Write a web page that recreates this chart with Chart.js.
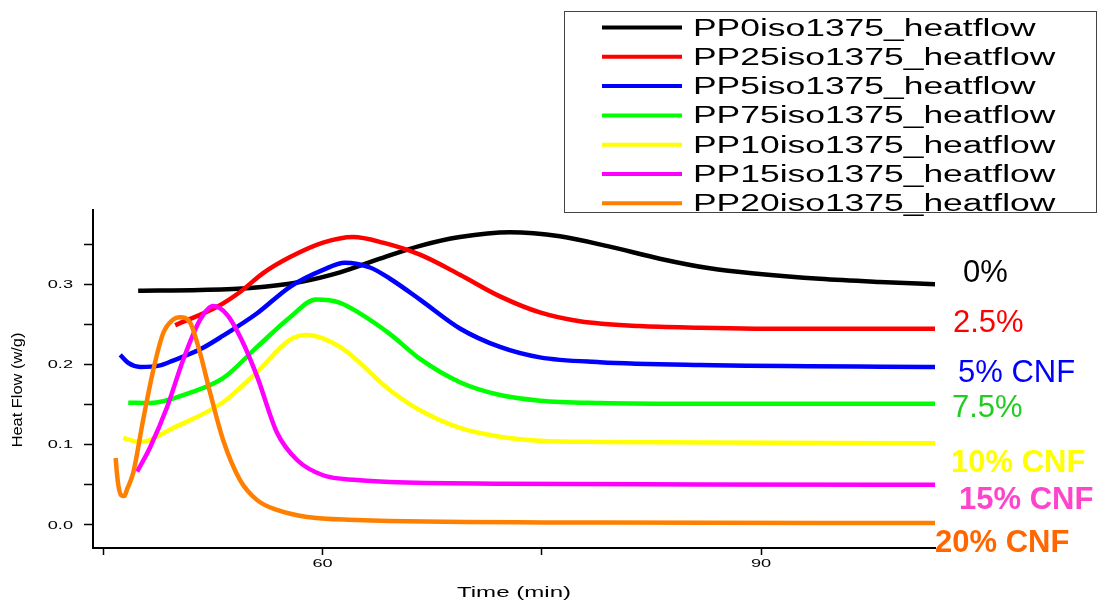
<!DOCTYPE html>
<html>
<head>
<meta charset="UTF-8">
<title>Heat flow</title>
<script src="https://cdn.jsdelivr.net/npm/chart.js"></script>
<style>
  body { margin: 0; background: #fff; }
  #box { width: 1099px; height: 601px; }
</style>
</head>
<body>
<div id="box"><canvas id="grafico" width="1099" height="601"></canvas></div>
<script>
// series names, colours
const nomes = ['PP0iso1375_heatflow', 'PP25iso1375_heatflow', 'PP5iso1375_heatflow', 'PP75iso1375_heatflow',
  'PP10iso1375_heatflow', 'PP15iso1375_heatflow', 'PP20iso1375_heatflow'];
const cores = ['#000000', '#ff0000', '#0000ff', '#00ff00', '#ffff00', '#ff00ff', '#ff8000'];

// time (min) and heat flow (w/g)
const tPP0 = [47.39, 51.63, 55.05, 58.47, 61.20, 63.93, 66.67, 69.40, 72.82, 76.24, 79.65, 83.07, 86.49, 89.91, 94.01, 98.11, 102.0];
const hfPP0 = [0.292, 0.293, 0.2955, 0.303, 0.315, 0.332, 0.348, 0.359, 0.365, 0.360, 0.347, 0.332, 0.320, 0.313, 0.307, 0.303, 0.300];

const tPP25 = [49.92, 52.79, 54.36, 55.94, 57.78, 60.04, 62.09, 64.14, 66.67, 69.40, 72.14, 74.87, 77.60, 81.71, 85.81, 92.64, 102.0];
const hfPP25 = [0.249, 0.272, 0.2905, 0.314, 0.334, 0.352, 0.359, 0.352, 0.337, 0.312, 0.285, 0.265, 0.254, 0.248, 0.246, 0.2445, 0.2445];

const tPP5 = [46.16, 46.71, 47.53, 48.90, 49.78, 51.63, 53.20, 55.53, 57.78, 60.04, 61.54, 63.25, 64.62, 66.67, 69.40, 72.14, 74.87, 78.97, 85.81, 102.0];
const hfPP5 = [0.212, 0.202, 0.197, 0.199, 0.205, 0.219, 0.236, 0.264, 0.297, 0.318, 0.327, 0.321, 0.307, 0.281, 0.245, 0.222, 0.209, 0.203, 0.1995, 0.197];

const tPP75 = [46.71, 48.21, 50.95, 53.20, 55.53, 57.78, 59.56, 61.20, 62.36, 64.62, 66.67, 69.40, 72.14, 74.87, 78.97, 85.81, 102.0];
const hfPP75 = [0.1525, 0.152, 0.165, 0.183, 0.222, 0.259, 0.281, 0.277, 0.266, 0.238, 0.207, 0.178, 0.162, 0.155, 0.152, 0.151, 0.151];

const tPP10 = [46.37, 47.53, 49.78, 53.20, 55.53, 57.78, 58.94, 61.20, 64.62, 66.67, 69.40, 72.14, 74.87, 78.97, 102.0];
const hfPP10 = [0.1085, 0.1035, 0.121, 0.153, 0.191, 0.231, 0.237, 0.222, 0.168, 0.143, 0.121, 0.110, 0.105, 0.1035, 0.102];

const tPP15 = [47.32, 48.21, 49.37, 50.47, 51.63, 52.52, 53.48, 54.57, 55.53, 56.89, 58.26, 60.04, 62.36, 64.62, 72.14, 85.81, 102.0];
const hfPP15 = [0.0665, 0.097, 0.147, 0.206, 0.256, 0.273, 0.262, 0.227, 0.185, 0.115, 0.081, 0.062, 0.056, 0.0536, 0.0515, 0.0505, 0.050];

const tPP20 = [45.85, 45.92, 46.03, 46.23, 46.44, 46.64, 47.05, 47.73, 48.42, 49.10, 49.78, 50.26, 50.95, 51.63, 52.31, 53.20, 54.36, 55.53, 56.89, 58.94, 62.36, 64.62, 78.97, 102.0];
const hfPP20 = [0.0835, 0.068, 0.050, 0.037, 0.036, 0.045, 0.065, 0.131, 0.193, 0.239, 0.256, 0.259, 0.252, 0.214, 0.165, 0.106, 0.056, 0.031, 0.0187, 0.010, 0.0062, 0.005, 0.003, 0.0025];

// ticks
const xTicks = [45, 60, 75, 90];
const xLabels = [60, 90];
const yTicks = [0, 0.05, 0.1, 0.15, 0.2, 0.25, 0.3, 0.35];
const yLabels = [0, 0.1, 0.2, 0.3];

// labels at the right end of the curves
const rotulos = ['0%', '2.5%', '5% CNF', '7.5%', '10% CNF', '15% CNF', '20% CNF'];
const coresRotulos = ['#000000', '#ff0000', '#0000ff', '#22cc22', '#ffff00', '#ff44cc', '#ff6600'];

const tempos = [tPP0, tPP25, tPP5, tPP75, tPP10, tPP15, tPP20];
const fluxos = [hfPP0, hfPP25, hfPP5, hfPP75, hfPP10, hfPP15, hfPP20];

const datasets = nomes.map(function (nome, i) {
  return {
    label: nome,
    data: tempos[i].map(function (t, k) { return { x: t, y: fluxos[i][k] }; }),
    borderColor: cores[i],
    backgroundColor: cores[i],
    borderWidth: 4.5,
    pointRadius: 0,
    cubicInterpolationMode: 'monotone',
    fill: false,
    order: nomes.length - i
  };
});

const FONTE = '"Liberation Sans", Arial, sans-serif';

// draws text stretched sideways like the original figure
function textoLargo(ctx, txt, x, y, sx, align) {
  ctx.save();
  ctx.translate(x, y);
  ctx.scale(sx, 1);
  ctx.textAlign = align;
  ctx.fillText(txt, 0, 0);
  ctx.restore();
}

const extras = {
  id: 'extras',
  afterDraw(chart) {
    const ctx = chart.ctx;
    const area = chart.chartArea;
    const sx = chart.scales.x, sy = chart.scales.y;
    ctx.save();
    ctx.fillStyle = '#000';
    ctx.textBaseline = 'middle';

    // tick labels
    ctx.font = '11px ' + FONTE;
    xLabels.forEach(function (v) {
      textoLargo(ctx, String(v), sx.getPixelForValue(v), area.bottom + 16, 1.65, 'center');
    });
    yLabels.forEach(function (v) {
      textoLargo(ctx, v.toFixed(1), area.left - 20, sy.getPixelForValue(v) + 0.5, 1.65, 'right');
    });

    // axis titles
    ctx.textBaseline = 'alphabetic';
    ctx.font = '14px ' + FONTE;
    textoLargo(ctx, 'Time (min)', (area.left + area.right) / 2, 597, 1.72, 'center');
    ctx.save();
    ctx.translate(22, 390);
    ctx.rotate(-Math.PI / 2);
    ctx.scale(1.17, 1);
    ctx.font = '14px ' + FONTE;
    ctx.textAlign = 'center';
    ctx.fillText('Heat Flow (w/g)', 0, 0);
    ctx.restore();

    // legend box
    const lx = 564, ly = 11, lw = 532, lh = 201;
    ctx.fillStyle = '#fff';
    ctx.fillRect(lx, ly, lw, lh);
    ctx.strokeStyle = '#444';
    ctx.lineWidth = 1;
    ctx.strokeRect(lx + 0.5, ly + 0.5, lw, lh);
    ctx.font = '23px ' + FONTE;
    chart.data.datasets.forEach(function (ds, i) {
      const cy = 27.5 + i * 29.3;
      ctx.strokeStyle = ds.borderColor;
      ctx.lineWidth = 4;
      ctx.beginPath();
      ctx.moveTo(602, cy);
      ctx.lineTo(682, cy);
      ctx.stroke();
      ctx.fillStyle = '#000';
      textoLargo(ctx, ds.label, 693, cy + 8, 1.54, 'left');
    });

    // percentage labels next to the curve ends
    const posX = [963, 953, 958, 952, 951, 959, 935];
    const posY = [282, 332, 382, 417, 472, 509, 552];
    rotulos.forEach(function (r, i) {
      ctx.font = (i >= 4 ? 'bold ' : '') + '31px ' + FONTE;
      ctx.fillStyle = coresRotulos[i];
      ctx.textAlign = 'left';
      ctx.fillText(r, posX[i], posY[i]);
    });
    ctx.restore();
  }
};

new Chart(document.getElementById('grafico'), {
  type: 'line',
  data: { datasets: datasets },
  options: {
    responsive: false,
    animation: false,
    devicePixelRatio: 1,
    layout: { padding: { top: 210, right: 164, left: 0, bottom: 0 } },
    plugins: { legend: { display: false }, tooltip: { enabled: false } },
    scales: {
      x: {
        type: 'linear',
        min: 44.3,
        max: 101.9,
        afterBuildTicks: function (scale) { scale.ticks = xTicks.map(function (v) { return { value: v }; }); },
        afterFit: function (scale) { scale.height = 53; },
        ticks: { display: false },
        grid: { drawOnChartArea: false, drawTicks: true, tickLength: 7, tickColor: '#000', tickWidth: 1.5 },
        border: { display: true, color: '#000', width: 2 }
      },
      y: {
        type: 'linear',
        min: -0.0287,
        max: 0.3927,
        afterBuildTicks: function (scale) { scale.ticks = yTicks.map(function (v) { return { value: v }; }); },
        afterFit: function (scale) { scale.width = 93; },
        ticks: { display: false },
        grid: { drawOnChartArea: false, drawTicks: true, tickLength: 9, tickColor: '#000', tickWidth: 1.5 },
        border: { display: true, color: '#000', width: 2 }
      }
    }
  },
  plugins: [extras]
});
</script>
</body>
</html>
